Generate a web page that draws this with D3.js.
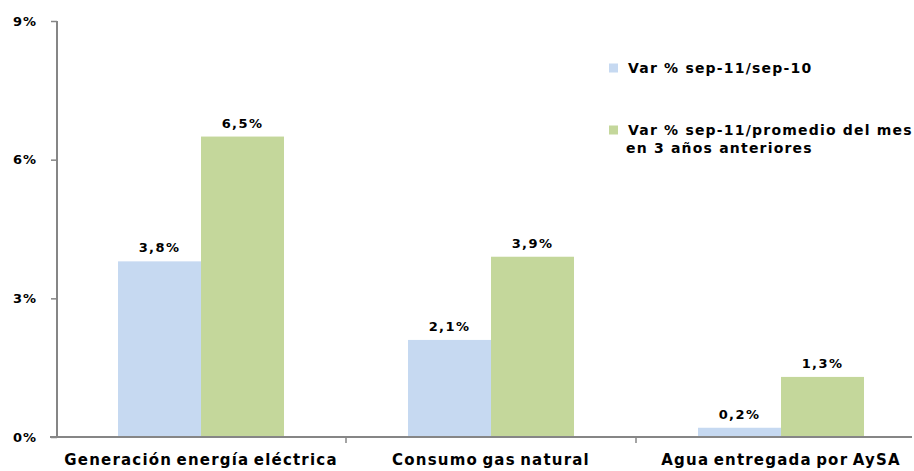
<!DOCTYPE html>
<html>
<head>
<meta charset="utf-8">
<script src="https://cdn.jsdelivr.net/npm/d3@7"></script>
<style>
  body { margin: 0; background: #fff; }
  text { font-family: "DejaVu Sans", sans-serif; font-weight: bold; fill: #000; }
</style>
</head>
<body>
<svg id="chart" width="914" height="471"></svg>
<script>
"use strict";

// data
var categories = ["Generación energía eléctrica", "Consumo gas natural", "Agua entregada por AySA"];
var seriesNames = ["Var % sep-11/sep-10", "Var % sep-11/promedio del mes|en 3 años anteriores"];
var varAnual = [3.8, 2.1, 0.2];
var varPromedio = [6.5, 3.9, 1.3];
var yTicks = [0, 3, 6, 9];
var colors = ["#c6d9f1", "#c4d79b"];

var svg = d3.select("#chart");

var x0 = d3.scaleBand()
  .domain(categories)
  .range([56, 926])
  .paddingInner(0.4276)
  .paddingOuter(0.2138);

var x1 = d3.scaleBand()
  .domain([0, 1])
  .range([0, x0.bandwidth()]);

var y = d3.scaleLinear()
  .domain([0, 9])
  .range([437, 21]);

var fmt = function(v) { return v.toFixed(1).replace(".", ",") + "%"; };

// bars
var rows = categories.map(function(c, i) {
  return {cat: c, vals: [varAnual[i], varPromedio[i]]};
});

var groups = svg.append("g").selectAll("g")
  .data(rows)
  .enter().append("g")
  .attr("transform", function(d) { return "translate(" + x0(d.cat) + ",0)"; });

groups.selectAll("rect")
  .data(function(d) { return d.vals; })
  .enter().append("rect")
  .attr("x", function(d, i) { return x1(i); })
  .attr("y", function(d) { return y(d); })
  .attr("width", x1.bandwidth())
  .attr("height", function(d) { return y(0) - y(d); })
  .attr("fill", function(d, i) { return colors[i]; });

groups.selectAll("text")
  .data(function(d) { return d.vals; })
  .enter().append("text")
  .attr("x", function(d, i) { return x1(i) + x1.bandwidth() / 2; })
  .attr("y", function(d) { return y(d) - 9; })
  .attr("text-anchor", "middle")
  .style("font-size", "13px")
  .style("letter-spacing", "1.4px")
  .text(fmt);

// y axis
var yAxis = d3.axisLeft(y)
  .tickValues(yTicks)
  .tickSize(6)
  .tickFormat(function(d) { return d + "%"; });

var gy = svg.append("g")
  .attr("transform", "translate(57,0)")
  .call(yAxis);
gy.select(".domain").attr("stroke", "#868686").attr("stroke-width", 2).attr("d", "M0,21V437");
gy.selectAll(".tick line").attr("stroke", "#868686").attr("stroke-width", 1.5);
gy.selectAll(".tick text")
  .attr("x", -20)
  .attr("dy", "0.32em")
  .style("font-size", "13px")
  .style("letter-spacing", "1px")
  .style("font-family", "'DejaVu Sans', sans-serif")
  .attr("fill", "#000");

// x axis
var xAxis = d3.axisBottom(x0).tickSize(0).tickPadding(17);
var gx = svg.append("g")
  .attr("transform", "translate(0,437)")
  .call(xAxis);
gx.select(".domain").remove();
gx.selectAll(".tick text")
  .style("font-size", "15px")
  .style("font-family", "'DejaVu Sans', sans-serif")
  .style("letter-spacing", "1.2px")
  .style("word-spacing", "-2px")
  .attr("fill", "#000");

svg.append("line")
  .attr("x1", 50).attr("x2", 912)
  .attr("y1", y(0)).attr("y2", y(0))
  .attr("stroke", "#868686").attr("stroke-width", 2);

// category separators
svg.selectAll(".sep")
  .data(categories.slice(1))
  .enter().append("line")
  .attr("x1", function(c) { return x0(c) - x0.step() * x0.paddingInner() / 2; })
  .attr("x2", function(c) { return x0(c) - x0.step() * x0.paddingInner() / 2; })
  .attr("y1", y(0)).attr("y2", y(0) + 6)
  .attr("stroke", "#868686").attr("stroke-width", 1.5);

// legend
var legendY = [68, 130];
var legend = svg.append("g").selectAll("g")
  .data(seriesNames)
  .enter().append("g")
  .attr("transform", function(d, i) { return "translate(609," + legendY[i] + ")"; });

legend.append("rect")
  .attr("x", 0).attr("y", -4.5)
  .attr("width", 9).attr("height", 9)
  .attr("fill", function(d, i) { return colors[i]; });

legend.append("text")
  .attr("x", 19)
  .attr("y", 5)
  .style("font-size", "14px")
  .style("letter-spacing", "1.2px")
  .selectAll("tspan")
  .data(function(d) { return d.split("|"); })
  .enter().append("tspan")
  .attr("x", function(d, i) { return i === 0 ? 19 : 17; })
  .attr("dy", function(d, i) { return i === 0 ? 0 : 18; })
  .text(function(d) { return d; });
</script>
</body>
</html>
